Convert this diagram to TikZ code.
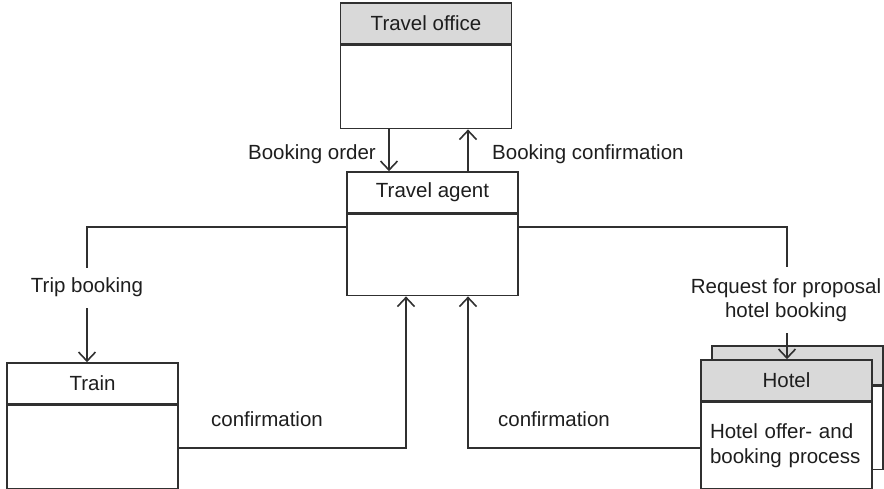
\documentclass[tikz,border=0pt]{standalone}
\usepackage{fontspec}
\setmainfont{Liberation Sans}
\usetikzlibrary{arrows.meta}
\definecolor{ln}{HTML}{303030}
\definecolor{tx}{HTML}{1E1E1E}
\definecolor{hd}{HTML}{D9D9D9}
\begin{document}
\begin{tikzpicture}[x=1pt,y=-1pt,
  font=\fontsize{20.5}{24.5}\selectfont, text=tx,
  box/.style={draw=ln, line width=1.6pt, rectangle, minimum width=171pt, inner sep=0pt, fill=white},
  hdr/.style={box, minimum height=41pt},
  gray/.style={fill=hd},
  lbl/.style={inner xsep=2pt, inner ysep=11pt, text height=14pt, text depth=4pt},
  line/.style={draw=ln, line width=1.6pt},
  arr/.style={line, -{Straight Barb[length=9pt,width=17pt,line width=1.6pt]}}]
\useasboundingbox (0,0) rectangle (884,489);
% Travel office
\node[hdr, gray] (offhdr) at (426,23.5) {Travel office};
\node[box, minimum height=83pt, anchor=north] (offbody) at (offhdr.south) {};
% Travel agent
\node[hdr] (aghdr) at (432.5,192.5) {Travel agent};
\node[box, minimum height=81pt, anchor=north] (agbody) at (aghdr.south) {};
% Train
\node[hdr] (trhdr) at (92.5,383.5) {Train};
\node[box, minimum height=83pt, anchor=north] (trbody) at (trhdr.south) {};
% Hotel (back)
\node[box, gray, minimum height=39pt] (hbhdr) at (797.5,365.5) {};
\node[box, minimum height=83pt, anchor=north] (hbbody) at (hbhdr.south) {};
% Hotel (front)
\node[hdr, gray] (hhdr) at (786.5,380.5) {Hotel};
\node[box, minimum height=86pt, anchor=north, text width=153pt, align=left, inner xsep=9pt] (hbody) at (hhdr.south) {Hotel offer- and\\booking process};
% coordinates
\coordinate (bo) at (389,0);
\coordinate (bc) at (468,0);
\coordinate (lt) at (87,227);
\coordinate (rt) at (787,227);
\coordinate (c1) at (406,448);
\coordinate (c2) at (468,448);
% Booking order / confirmation
\draw[arr] (offbody.south -| bo) -- (aghdr.north -| bo);
\draw[arr] (aghdr.north -| bc) -- (offbody.south -| bc);
\node[anchor=east, inner sep=0pt] (lbo) at (376,154) {Booking order};
\node[anchor=west, inner sep=0pt] (lbc) at (492,154) {Booking confirmation};
% Trip booking
\node[lbl] (ltrip) at (87,288) {Trip booking};
\draw[line] (agbody.west |- lt) -- (lt) -- (ltrip.north);
\draw[arr] (ltrip.south) -- (trhdr.north -| ltrip.south);
% Request for proposal
\node[align=center, inner xsep=2pt, inner ysep=11pt] (lreq) at (786,300) {Request for proposal\\hotel booking};
\draw[line] (agbody.east |- rt) -- (rt) -- (rt |- lreq.north);
\draw[arr] (rt |- lreq.south) -- (hhdr.north -| rt);
% confirmations
\draw[arr] (trbody.east |- c1) -- (c1) -- (agbody.south -| c1);
\node[inner sep=0pt] (lc1) at (267,419) {confirmation};
\draw[arr] (hbody.west |- c2) -- (c2) -- (agbody.south -| c2);
\node[inner sep=0pt] (lc2) at (554,419) {confirmation};
\end{tikzpicture}
\end{document}
